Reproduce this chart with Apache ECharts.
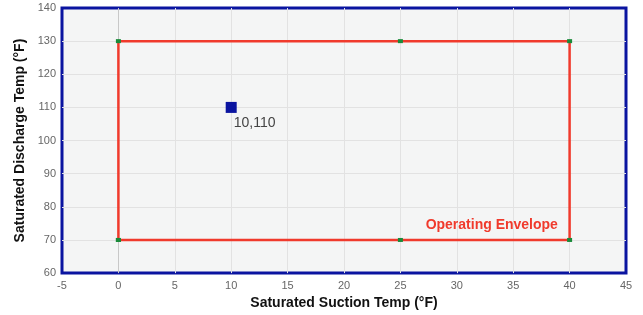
<!DOCTYPE html>
<html><head><meta charset="utf-8">
<script src="https://cdn.jsdelivr.net/npm/echarts@6/dist/echarts.min.js"></script>
<style>html,body{margin:0;padding:0;background:#fff}#c{width:643px;height:315px}</style>
</head><body><div id="c"></div>
<script>
const envelopeX = [0, 0, 25, 40, 40, 25, 0];
const envelopeY = [70, 130, 130, 130, 70, 70, 70];
const pointXY = [10, 110];
const envelopeLabel = 'Operating Envelope';
const envelopeLabelPos = [33.1, 74.4];
const xTicks = {min: -5, max: 45, interval: 5};
const yTicks = {min: 60, max: 140, interval: 10};

const envData = envelopeX.map((x, i) => [x, envelopeY[i]]);
const font = '"Liberation Sans", Arial, sans-serif';
// split lines drawn (min and max lines are hidden)
const xSplitColors = [];
for (let v = xTicks.min + xTicks.interval; v < xTicks.max; v += xTicks.interval) xSplitColors.push(v === 0 ? '#c8c8c8' : '#e2e2e2');

const chart = echarts.init(document.getElementById('c'), null, {renderer: 'canvas'});
chart.setOption({
  animation: false,
  textStyle: {fontFamily: font},
  grid: {left: 62, right: 17, top: 8, bottom: 41, show: true, backgroundColor: '#f4f5f5', borderColor: '#0a14a0', borderWidth: 3},
  xAxis: {
    type: 'value', min: xTicks.min, max: xTicks.max, interval: xTicks.interval,
    name: 'Saturated Suction Temp (°F)', nameLocation: 'middle', nameGap: 18,
    nameTextStyle: {fontSize: 14, fontWeight: 'bold', color: '#111', fontFamily: font},
    axisLine: {show: false}, axisTick: {show: false},
    axisLabel: {color: '#666', fontSize: 11, margin: 7, fontFamily: font},
    splitLine: {show: true, showMinLine: false, showMaxLine: false, lineStyle: {color: xSplitColors, width: 1}}
  },
  yAxis: {
    type: 'value', min: yTicks.min, max: yTicks.max, interval: yTicks.interval,
    name: 'Saturated Discharge Temp (°F)', nameLocation: 'middle', nameGap: 32,
    nameTextStyle: {fontSize: 14, fontWeight: 'bold', color: '#111', fontFamily: font},
    axisLine: {show: false}, axisTick: {show: false},
    axisLabel: {color: '#666', fontSize: 11, margin: 6, fontFamily: font},
    splitLine: {show: true, showMinLine: false, showMaxLine: false, lineStyle: {color: '#e2e2e2', width: 1}}
  },
  series: [
    {
      type: 'line', data: envData, symbol: 'rect', symbolSize: [5, 4], showSymbol: true,
      lineStyle: {color: '#f03a2c', width: 2.5}, itemStyle: {color: '#1a8a3a', borderWidth: 0, opacity: 1}, z: 3
    },
    {
      type: 'scatter', data: [pointXY], symbol: 'rect', symbolSize: 11,
      itemStyle: {color: '#0a14a0', opacity: 1},
      label: {show: true, position: 'right', distance: 5, offset: [-8, 16], formatter: p => p.value[0] + ',' + p.value[1], color: '#444', fontSize: 14, fontFamily: font}, z: 4
    },
    {
      type: 'scatter', data: [envelopeLabelPos], symbolSize: 1, itemStyle: {color: 'rgba(0,0,0,0)', opacity: 1},
      label: {show: true, position: 'inside', formatter: envelopeLabel, color: '#f03a2c', fontSize: 14, fontWeight: 'bold', fontFamily: font}, z: 4
    }
  ]
});
</script></body></html>
